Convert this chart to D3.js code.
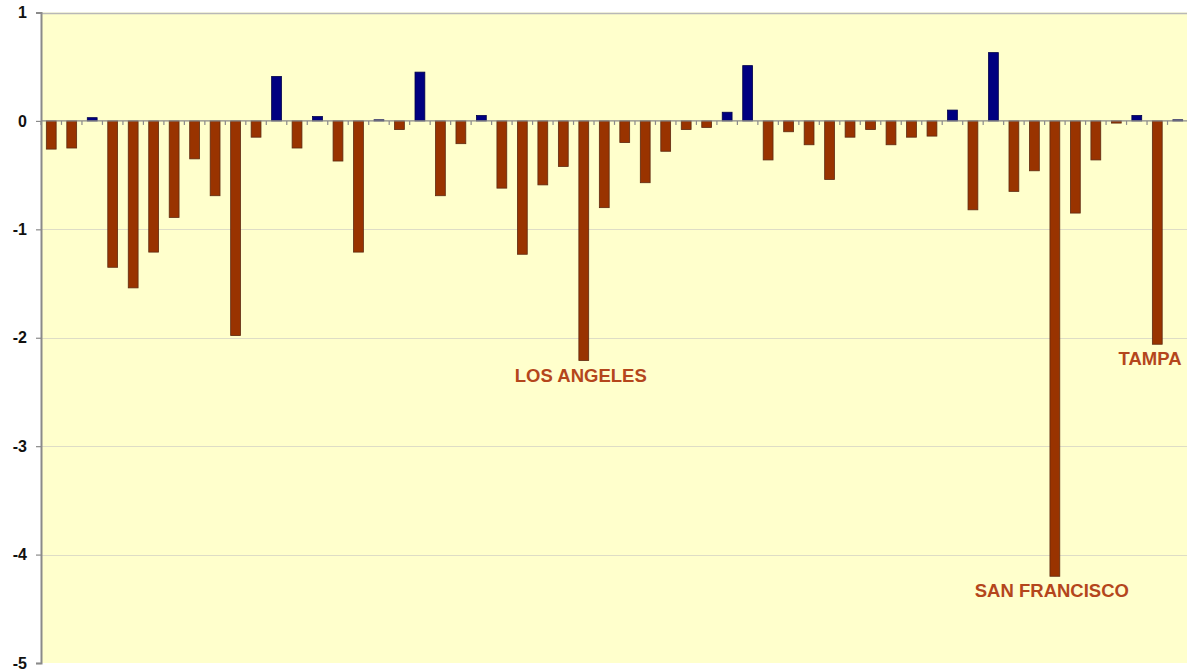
<!DOCTYPE html>
<html>
<head>
<meta charset="utf-8">
<script src="https://cdn.jsdelivr.net/npm/d3@7"></script>
<style>
  html, body { margin: 0; padding: 0; background: #ffffff; }
  svg { display: block; }
</style>
</head>
<body>
<svg id="chart" width="1187" height="671"></svg>
<script>
// Change per city (index order along the axis)
const cities = d3.range(1, 57).map(i => "City " + i);
const values = [
  -0.26, -0.25, 0.03, -1.35, -1.54, -1.21, -0.89, -0.35, -0.69, -1.98,
  -0.15, 0.41, -0.25, 0.04, -0.37, -1.21, 0.01, -0.08, 0.45, -0.69,
  -0.21, 0.05, -0.62, -1.23, -0.59, -0.42, -2.21, -0.80, -0.20, -0.57,
  -0.28, -0.08, -0.06, 0.08, 0.51, -0.36, -0.10, -0.22, -0.54, -0.15,
  -0.08, -0.22, -0.15, -0.14, 0.10, -0.82, 0.63, -0.65, -0.46, -4.20,
  -0.85, -0.36, -0.02, 0.05, -2.06, 0.01
];
// Named cities called out under their bars
const calloutIndex = [26, 49, 54];
const calloutText = ["LOS ANGELES", "SAN FRANCISCO", "TAMPA"];
const yTicks = [1, 0, -1, -2, -3, -4, -5];

const svg = d3.select("#chart");
const plotL = 41, plotR = 1188, plotT = 12.5, plotB = 663;

const x = d3.scaleBand().domain(d3.range(values.length)).range([plotL, plotR]).paddingInner(0.52).paddingOuter(0.26);
const y = d3.scaleLinear().domain([-5, 1]).range([plotB, plotT]);

// plot area
svg.append("rect").attr("x", plotL).attr("y", plotT).attr("width", plotR - plotL).attr("height", plotB - plotT)
  .attr("fill", "#ffffcc");

// horizontal gridlines
svg.append("g").selectAll("line").data(yTicks.filter(t => t !== 0 && t !== -5)).join("line")
  .attr("x1", plotL).attr("x2", plotR)
  .attr("y1", d => Math.round(y(d)) + 0.5).attr("y2", d => Math.round(y(d)) + 0.5)
  .attr("stroke", d => d === 1 ? "#b8b8b8" : "#deddc6").attr("stroke-width", d => d === 1 ? 1.5 : 1.2);

// y axis
const yAxis = d3.axisLeft(y).tickValues(yTicks).tickSize(5).tickFormat(d => String(d));
const gy = svg.append("g").attr("transform", `translate(${plotL},0)`).call(yAxis);
gy.select(".domain").attr("stroke", "#8a8a8a").attr("stroke-width", 2);
gy.selectAll(".tick line").attr("stroke", "#8a8a8a").attr("stroke-width", 1.2);
gy.selectAll(".tick text")
  .attr("x", -14)
  .attr("font-family", "Liberation Sans, Arial, sans-serif")
  .attr("font-weight", "bold").attr("font-size", 16).attr("fill", "#111");

// bars
svg.append("g").selectAll("rect").data(values).join("rect")
  .attr("x", (d, i) => x(i))
  .attr("width", x.bandwidth())
  .attr("y", d => y(Math.max(0, d)))
  .attr("height", d => Math.max(0.8, Math.abs(y(d) - y(0))))
  .attr("fill", d => d >= 0 ? "#000080" : "#993300")
  .attr("stroke", d => d >= 0 ? "#00004a" : "#5e2a10")
  .attr("stroke-width", 0.8);

// category axis along zero
const xAxisG = svg.append("g");
xAxisG.append("line").attr("x1", plotL).attr("x2", plotR)
  .attr("y1", y(0)).attr("y2", y(0)).attr("stroke", "#8a8a8a").attr("stroke-width", 1.2);
xAxisG.selectAll("line.tick").data(d3.range(values.length + 1)).join("line").attr("class", "tick")
  .attr("x1", i => plotL + i * x.step()).attr("x2", i => plotL + i * x.step())
  .attr("y1", y(0)).attr("y2", y(0) + 4)
  .attr("stroke", "#8a8a8a").attr("stroke-width", 1.2);

// callout labels
svg.append("g").selectAll("text").data(calloutIndex).join("text")
  .attr("x", (d, k) => {
    const cx = x(d) + x.bandwidth() / 2;
    return k === 2 ? Math.min(cx, 1183 - 33) : cx - 3;
  })
  .attr("y", d => y(values[d]) + 21)
  .attr("text-anchor", "middle")
  .attr("font-family", "Liberation Sans, Arial, sans-serif")
  .attr("font-weight", "bold").attr("font-size", 18.5)
  .attr("fill", "#b4461c")
  .text((d, k) => calloutText[k]);
</script>
</body>
</html>
